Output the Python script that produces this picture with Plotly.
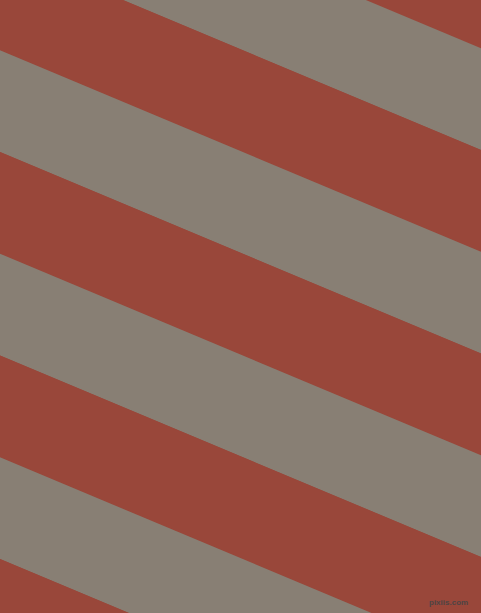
import plotly.graph_objects as go

# Stripe pattern data
slope = 0.419                      # dy/dx of stripe edges
boundary_intercepts = [-153.3, -51.5, 50.2, 152.0, 253.7, 355.5, 457.3, 559.0, 660.8]
band_colors = ["#887F74", "#99473A", "#887F74", "#99473A", "#887F74", "#99473A", "#887F74", "#99473A"]
background_color = "#99473A"
watermark = "pixiis.com"

W, H = 481, 613
fig = go.Figure()
xa, xb = -20, W + 20
for i, col in enumerate(band_colors):
    a = boundary_intercepts[i]
    b = boundary_intercepts[i + 1]
    xs = [xa, xb, xb, xa, xa]
    ys = [a + slope * xa, a + slope * xb, b + slope * xb, b + slope * xa, a + slope * xa]
    fig.add_trace(go.Scatter(x=xs, y=ys, mode="lines", fill="toself",
                             fillcolor=col, line=dict(width=0, color=col),
                             hoverinfo="skip", showlegend=False))

fig.add_annotation(x=470, y=602.5, xref="x", yref="y", text="<b>" + watermark + "</b>",
                   showarrow=False, xanchor="right", yanchor="middle",
                   font=dict(family="Liberation Sans", size=8, color="#4E4444"))

fig.update_layout(width=W, height=H, margin=dict(l=0, r=0, t=0, b=0),
                  paper_bgcolor=background_color, plot_bgcolor=background_color,
                  xaxis=dict(range=[0, W], visible=False, fixedrange=True),
                  yaxis=dict(range=[H, 0], visible=False, fixedrange=True))
fig.write_html("out.html", config={"displayModeBar": False},
               post_script="document.body.style.margin='0';document.body.style.overflow='hidden';")
